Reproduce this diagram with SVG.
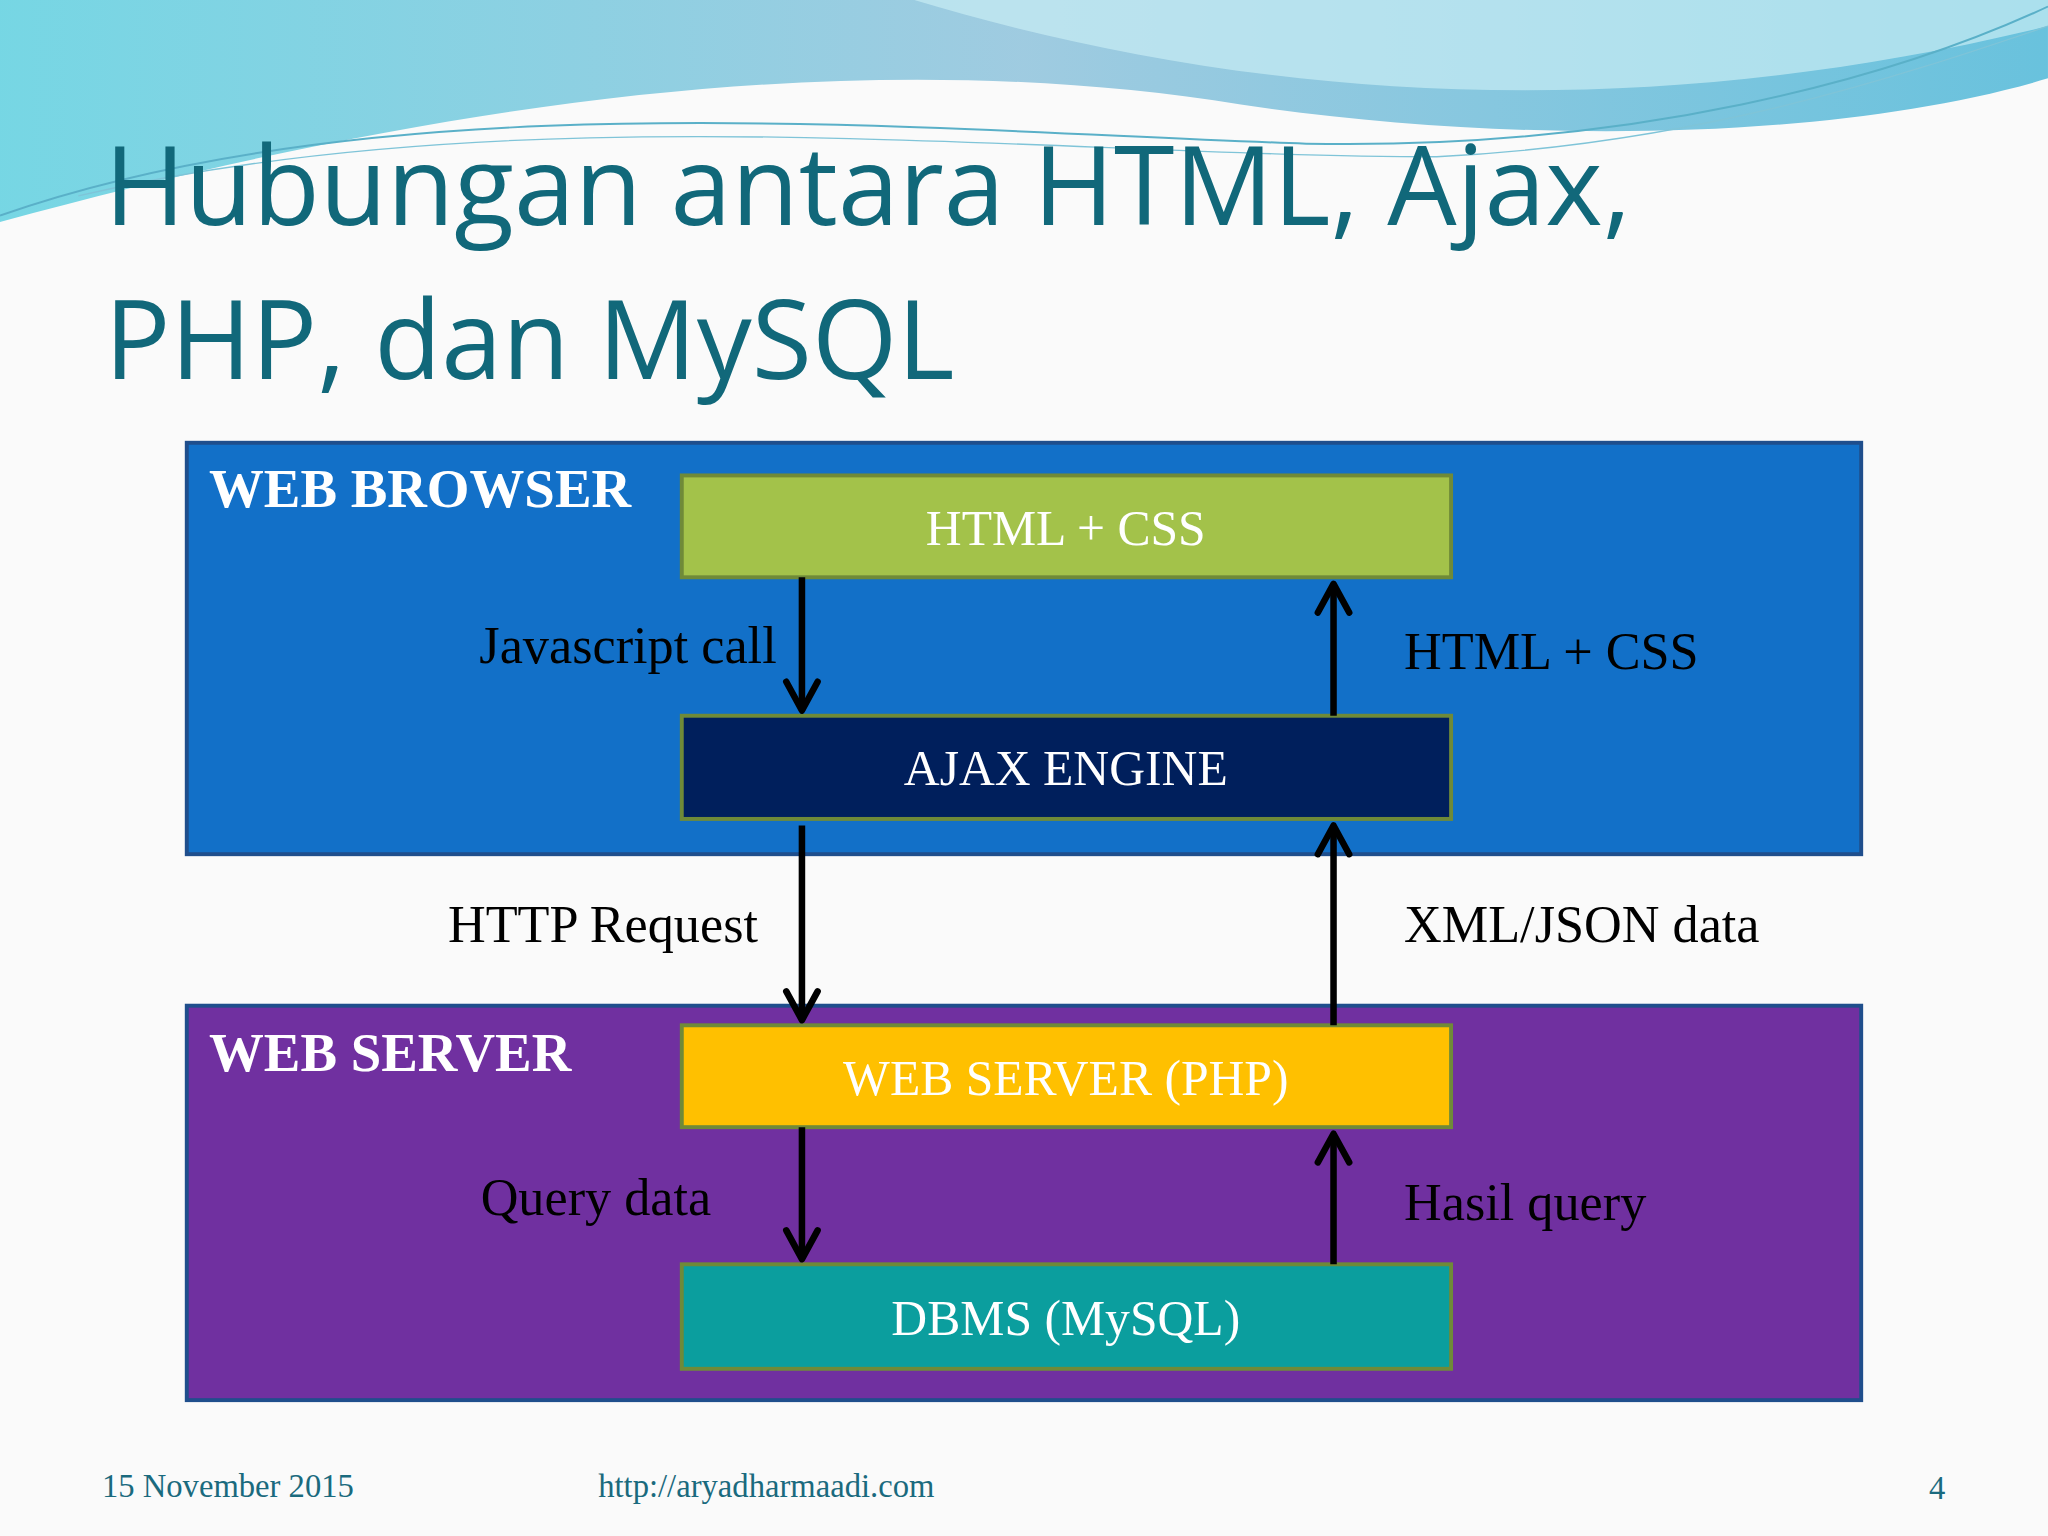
<svg xmlns="http://www.w3.org/2000/svg" width="2048" height="1536" viewBox="0 0 2048 1536">
<defs>
<linearGradient id="wave" x1="0" y1="0" x2="1" y2="0">
<stop offset="0" stop-color="#5fd0e0"/><stop offset="0.5" stop-color="#8fc3dc"/><stop offset="1" stop-color="#4fb8d8"/>
</linearGradient>
<style>
.lbl{font-family:"Liberation Serif",serif;font-size:40px;fill:#000}
.box{stroke-width:3}
.bt{font-family:"Liberation Serif",serif;font-size:38px;fill:#fff;text-anchor:middle}
.grp{font-family:"Liberation Serif",serif;font-size:42px;font-weight:bold;fill:#fff}
.ft{font-family:"Liberation Serif",serif;font-size:25px;fill:#1a6a7e}
.arr{stroke:#000;stroke-width:5;fill:none}
.hd{stroke:#000;stroke-width:5;fill:none;stroke-linecap:round;stroke-linejoin:round}
</style>
</defs>
<rect width="2048" height="1536" fill="#fafafa"/>
<g transform="scale(1.3061)">
<path d="M0,0 H1568 V60 C1400,110 1150,110 950,80 C700,40 400,60 0,170 Z" fill="url(#wave)" opacity="0.85"/>
<path d="M700,0 C900,60 1200,110 1568,20 V0 Z" fill="#c8ecf4" opacity="0.7"/>
<path d="M0,165 C300,60 700,100 1000,110 C1250,115 1450,60 1568,5" fill="none" stroke="#5ab0c8" stroke-width="1.5"/>
<path d="M60,150 C400,70 800,120 1100,120 C1300,110 1450,60 1568,20" fill="none" stroke="#7fc4d8" stroke-width="1"/>
<g id="title" font-family="'Open Sans',sans-serif" font-size="84" fill="#11687a">
<text x="80" y="172">Hubungan antara HTML, Ajax,</text>
<text x="80" y="290">PHP, dan MySQL</text>
</g>
<g id="web-browser"><rect x="143" y="339" width="1282" height="315" fill="#1270c8" stroke="#1f4e8c" class="box"/><text class="grp" x="160" y="388">WEB BROWSER</text></g>
<g id="web-server"><rect x="143" y="770" width="1282" height="302" fill="#7030a0" stroke="#1f4e8c" class="box"/><text class="grp" x="160" y="820">WEB SERVER</text></g>
<g id="html-css"><rect x="522" y="364" width="589" height="78" fill="#a3c24a" stroke="#6f8a38" class="box"/><text class="bt" x="816" y="417">HTML + CSS</text></g>
<g id="ajax"><rect x="522" y="548" width="589" height="79" fill="#001f5c" stroke="#6f8a38" class="box"/><text class="bt" x="816" y="601">AJAX ENGINE</text></g>
<g id="php"><rect x="522" y="785" width="589" height="78" fill="#ffc000" stroke="#6f8a38" class="box"/><text class="bt" x="816" y="838">WEB SERVER (PHP)</text></g>
<g id="dbms"><rect x="522" y="968" width="589" height="80" fill="#0b9e9e" stroke="#6f8a38" class="box"/><text class="bt" x="816" y="1022">DBMS (MySQL)</text></g>
<g id="connectors">
<line class="arr" x1="614" y1="442" x2="614" y2="544"/><path class="hd" d="M602,522 L614,544 L626,522"/>
<line class="arr" x1="614" y1="632" x2="614" y2="781"/><path class="hd" d="M602,759 L614,781 L626,759"/>
<line class="arr" x1="614" y1="863" x2="614" y2="964"/><path class="hd" d="M602,942 L614,964 L626,942"/>
<line class="arr" x1="1021" y1="548" x2="1021" y2="447"/><path class="hd" d="M1009,469 L1021,447 L1033,469"/>
<line class="arr" x1="1021" y1="785" x2="1021" y2="632"/><path class="hd" d="M1009,654 L1021,632 L1033,654"/>
<line class="arr" x1="1021" y1="968" x2="1021" y2="868"/><path class="hd" d="M1009,890 L1021,868 L1033,890"/>
<text class="lbl" x="367" y="508">Javascript call</text>
<text class="lbl" x="1075" y="512">HTML + CSS</text>
<text class="lbl" x="343" y="721">HTTP Request</text>
<text class="lbl" x="1075" y="721">XML/JSON data</text>
<text class="lbl" x="368" y="930">Query data</text>
<text class="lbl" x="1075" y="934">Hasil query</text>
</g>
<text class="ft" x="78" y="1146">15 November 2015</text>
<text class="ft" x="458" y="1146">http://aryadharmaadi.com</text>
<text class="ft" x="1477" y="1148">4</text>
</g>
</svg>
